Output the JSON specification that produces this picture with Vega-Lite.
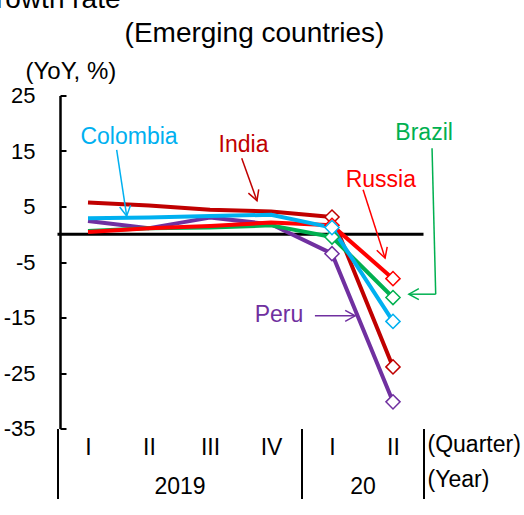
{
  "$schema": "https://vega.github.io/schema/vega-lite/v6.json",
  "width": 366,
  "height": 333,
  "autosize": {"type": "none"},
  "padding": {"left": 57.5, "top": 95.5, "right": 100.5, "bottom": 86.5},
  "background": "white",
  "config": {
    "font": "Liberation Sans",
    "view": {"stroke": null},
    "axis": {"grid": false, "labelColor": "black", "titleColor": "black", "titleFontWeight": "normal"}
  },
  "datasets": {
    "zero": [{"q": -0.5, "q2": 5.5, "v": 0}],
    "series": [
      {"country": "India", "q": 0, "v": 5.7},
      {"country": "India", "q": 1, "v": 5.2},
      {"country": "India", "q": 2, "v": 4.4},
      {"country": "India", "q": 3, "v": 4.1},
      {"country": "India", "q": 4, "v": 3.1},
      {"country": "India", "q": 5, "v": -23.9},
      {"country": "Peru", "q": 0, "v": 2.4},
      {"country": "Peru", "q": 1, "v": 1.1},
      {"country": "Peru", "q": 2, "v": 3.0},
      {"country": "Peru", "q": 3, "v": 1.8},
      {"country": "Peru", "q": 4, "v": -3.5},
      {"country": "Peru", "q": 5, "v": -30.2},
      {"country": "Brazil", "q": 0, "v": 0.6},
      {"country": "Brazil", "q": 1, "v": 1.1},
      {"country": "Brazil", "q": 2, "v": 1.2},
      {"country": "Brazil", "q": 3, "v": 1.6},
      {"country": "Brazil", "q": 4, "v": -0.5},
      {"country": "Brazil", "q": 5, "v": -11.4},
      {"country": "Russia", "q": 0, "v": 0.4},
      {"country": "Russia", "q": 1, "v": 1.1},
      {"country": "Russia", "q": 2, "v": 1.5},
      {"country": "Russia", "q": 3, "v": 2.1},
      {"country": "Russia", "q": 4, "v": 1.6},
      {"country": "Russia", "q": 5, "v": -8.0},
      {"country": "Colombia", "q": 0, "v": 2.9},
      {"country": "Colombia", "q": 1, "v": 3.0},
      {"country": "Colombia", "q": 2, "v": 3.3},
      {"country": "Colombia", "q": 3, "v": 3.5},
      {"country": "Colombia", "q": 4, "v": 1.2},
      {"country": "Colombia", "q": 5, "v": -15.7}
    ],
    "arrows": [
      {"country": "Colombia", "x": 0.47, "y": 15.2, "x2": 0.634, "y2": 3.3},
      {"country": "India", "x": 2.52, "y": 13.7, "x2": 2.77, "y2": 6.05},
      {"country": "Russia", "x": 4.51, "y": 8.0, "x2": 4.87, "y2": -4.3},
      {"country": "Peru", "x": 3.72, "y": -14.7, "x2": 4.38, "y2": -14.7},
      {"country": "Brazil", "x": 5.64, "y": 15.5, "x2": 5.70, "y2": -10.8},
      {"country": "Brazil", "x": 5.70, "y": -10.8, "x2": 5.26, "y2": -10.8}
    ],
    "heads": [
      {"country": "Colombia", "x": 0.634, "y": 3.3},
      {"country": "India", "x": 2.77, "y": 6.05},
      {"country": "Russia", "x": 4.87, "y": -4.3},
      {"country": "Peru", "x": 4.38, "y": -14.7},
      {"country": "Brazil", "x": 5.26, "y": -10.8}
    ],
    "labels": [
      {"country": "Colombia", "x": 0.672, "y": 16.26},
      {"country": "India", "x": 2.55, "y": 14.8},
      {"country": "Brazil", "x": 5.51, "y": 17.0},
      {"country": "Russia", "x": 4.80, "y": 8.46},
      {"country": "Peru", "x": 3.13, "y": -15.9}
    ]
  },
  "layer": [
    {
      "data": {"name": "zero"},
      "mark": {"type": "rule", "color": "black", "strokeWidth": 3},
      "encoding": {
        "x": {"field": "q", "type": "quantitative", "scale": {"domain": [-0.5, 5.5], "nice": false, "zero": false},
          "axis": {"orient": "top", "labels": false, "ticks": false, "domain": false, "title": "Real GDP growth rate", "titleFontSize": 28, "titleAlign": "right", "titleBaseline": "alphabetic", "titleX": 62.5, "titleY": -88, "titleAngle": 0}},
        "x2": {"field": "q2"},
        "y": {"field": "v", "type": "quantitative", "scale": {"domain": [-35, 25], "nice": false, "zero": false}}
      }
    },
    {
      "data": {"name": "series"},
      "mark": {"type": "line", "strokeWidth": 4, "strokeCap": "butt", "strokeJoin": "round"},
      "encoding": {
        "x": {"field": "q", "type": "quantitative", "scale": {"domain": [-0.5, 5.5], "nice": false, "zero": false},
          "axis": {"orient": "bottom", "values": [0, 1, 2, 3, 4, 5], "labelExpr": "['I','II','III','IV','I','II'][datum.value]", "labelFontSize": 23, "labelPadding": 8, "labelBaseline": "top", "ticks": false, "domain": false, "labelOverlap": false, "labelFlush": false, "labelBound": false, "title": "(Quarter)", "titleFontSize": 23, "titleX": 369.5, "titleY": 22.5, "titleAlign": "left", "titleBaseline": "alphabetic", "titleAngle": 0}},
        "y": {"field": "v", "type": "quantitative", "scale": {"domain": [-35, 25], "nice": false, "zero": false},
          "axis": {"orient": "left", "offset": -2.5, "values": [-35, -25, -15, -5, 5, 15, 25], "labelExpr": "'' + datum.value", "labelFontSize": 22, "tickSize": -6, "tickWidth": 2, "tickColor": "black", "domainColor": "black", "domainWidth": 2.5, "labelPadding": 31, "labelOverlap": false, "labelFlush": false, "title": "(YoY, %)", "titleFontSize": 24, "titleAngle": 0, "titleAlign": "left", "titleBaseline": "alphabetic", "titleX": -35, "titleY": -17.5}},
        "color": {"field": "country", "type": "nominal", "scale": {"domain": ["India", "Russia", "Brazil", "Colombia", "Peru"], "range": ["#c00000", "#ff0000", "#00b050", "#00b0f0", "#7030a0"]}, "legend": null}
      }
    },
    {
      "data": {"name": "series"},
      "transform": [{"filter": "datum.q >= 4"}],
      "mark": {"type": "point", "shape": "diamond", "size": 200, "filled": true, "fill": "white", "opacity": 1, "strokeWidth": 1.5},
      "encoding": {
        "x": {"field": "q", "type": "quantitative", "scale": {"domain": [-0.5, 5.5], "nice": false, "zero": false},
          "axis": {"orient": "bottom", "values": [1.5, 4.5], "labelExpr": "datum.value < 3 ? '2019' : '20'", "labelFontSize": 23, "labelBaseline": "alphabetic", "labelPadding": 64.5, "ticks": false, "domain": false, "labelOverlap": false, "labelFlush": false, "labelBound": false, "title": "(Year)", "titleFontSize": 23, "titleX": 369.5, "titleY": 57.5, "titleAlign": "left", "titleBaseline": "alphabetic", "titleAngle": 0}},
        "y": {"field": "v", "type": "quantitative", "scale": {"domain": [-35, 25], "nice": false, "zero": false}},
        "stroke": {"field": "country", "type": "nominal", "scale": {"domain": ["India", "Russia", "Brazil", "Colombia", "Peru"], "range": ["#c00000", "#ff0000", "#00b050", "#00b0f0", "#7030a0"]}, "legend": null}
      }
    },
    {
      "data": {"name": "arrows"},
      "mark": {"type": "rule", "strokeWidth": 1.5},
      "encoding": {
        "x": {"field": "x", "type": "quantitative", "scale": {"domain": [-0.5, 5.5], "nice": false, "zero": false},
          "axis": {"orient": "bottom", "values": [-0.5, 3.5, 5.5], "labels": false, "ticks": true, "tickSize": 70, "tickWidth": 2, "tickColor": "black", "domain": false, "title": null}},
        "x2": {"field": "x2"},
        "y": {"field": "y", "type": "quantitative", "scale": {"domain": [-35, 25], "nice": false, "zero": false}},
        "y2": {"field": "y2"},
        "color": {"field": "country", "type": "nominal", "scale": {"domain": ["India", "Russia", "Brazil", "Colombia", "Peru"], "range": ["#c00000", "#ff0000", "#00b050", "#00b0f0", "#7030a0"]}, "legend": null}
      }
    },
    {
      "data": {"name": "heads"},
      "mark": {"type": "point", "shape": "M-1,-0.55L0,0L-1,0.55", "filled": false, "size": 400, "strokeWidth": 1.5, "opacity": 1},
      "encoding": {
        "x": {"field": "x", "type": "quantitative", "scale": {"domain": [-0.5, 5.5], "nice": false, "zero": false},
          "axis": {"orient": "top", "labels": false, "ticks": false, "domain": false, "title": "(Emerging countries)", "titleFontSize": 28, "titleAlign": "center", "titleBaseline": "alphabetic", "titleX": 196.5, "titleY": -53.8, "titleAngle": 0}},
        "y": {"field": "y", "type": "quantitative", "scale": {"domain": [-35, 25], "nice": false, "zero": false}},
        "color": {"field": "country", "type": "nominal", "scale": {"domain": ["India", "Russia", "Brazil", "Colombia", "Peru"], "range": ["#c00000", "#ff0000", "#00b050", "#00b0f0", "#7030a0"]}, "legend": null},
        "angle": {"field": "country", "type": "nominal", "scale": {"type": "ordinal", "domain": ["India", "Russia", "Brazil", "Colombia", "Peru"], "range": [70, 72, 180, 81, 0]}, "legend": null}
      }
    },
    {
      "data": {"name": "labels"},
      "mark": {"type": "text", "fontSize": 23, "baseline": "alphabetic", "align": "center"},
      "encoding": {
        "x": {"field": "x", "type": "quantitative", "scale": {"domain": [-0.5, 5.5], "nice": false, "zero": false}, "axis": null},
        "y": {"field": "y", "type": "quantitative", "scale": {"domain": [-35, 25], "nice": false, "zero": false}},
        "text": {"field": "country"},
        "color": {"field": "country", "type": "nominal", "scale": {"domain": ["India", "Russia", "Brazil", "Colombia", "Peru"], "range": ["#c00000", "#ff0000", "#00b050", "#00b0f0", "#7030a0"]}, "legend": null}
      }
    }
  ],
  "resolve": {"axis": {"x": "independent"}}
}
